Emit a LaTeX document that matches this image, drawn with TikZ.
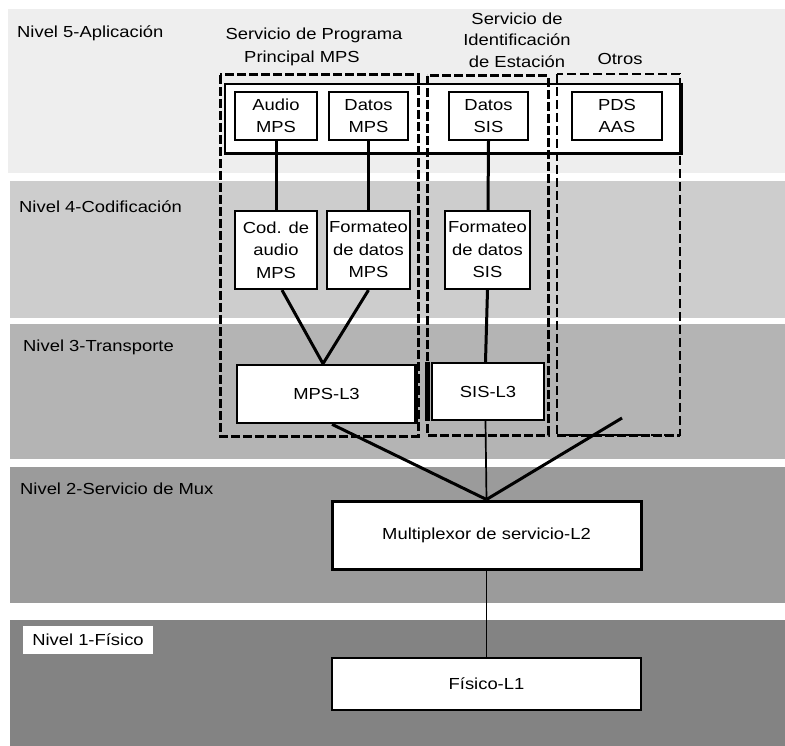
\documentclass[tikz,border=0pt]{standalone}
\usepackage{fontspec}
\setmainfont{Liberation Sans}[FakeStretch=1.15]
\newcommand\labfont{\fontsize{16}{22.5}\selectfont}
\definecolor{bandV}{HTML}{EEEEEE}
\definecolor{bandIV}{HTML}{CDCDCD}
\definecolor{bandIII}{HTML}{B4B4B4}
\definecolor{bandII}{HTML}{9B9B9B}
\definecolor{bandI}{HTML}{838383}
\begin{document}
\begin{tikzpicture}[x=1pt,y=-1pt,
  lbl/.style={anchor=west,inner sep=0pt,font=\labfont},
  hdr/.style={inner sep=0pt,align=center,font=\labfont},
  box/.style={draw,fill=white,line width=2.2pt,inner sep=0pt,align=center,font=\labfont},
  link/.style={line width=3pt},
  thinlink/.style={line width=1.7pt},
  grp/.style={line width=3pt,dash pattern=on 9pt off 3pt},
  grpthin/.style={line width=2pt,dash pattern=on 9pt off 4pt}]
\useasboundingbox (0,0) rectangle (785,746);

% layer bands
\fill[bandV]   (8,9)    rectangle (785,173);
\fill[bandIV]  (10,181) rectangle (785,318);
\fill[bandIII] (10,324) rectangle (785,459);
\fill[bandII]  (10,467) rectangle (785,603);
\fill[bandI]   (10,620) rectangle (785,746);

% layer names
\node[lbl] (n5) at (17,33)  {Nivel 5-Aplicación};
\node[lbl] (n4) at (19,207) {Nivel 4-Codificación};
\node[lbl] (n3) at (23,347) {Nivel 3-Transporte};
\node[lbl] (n2) at (20,489) {Nivel 2-Servicio de Mux};
\node[draw=none,fill=white,inner sep=0pt,minimum width=130,minimum height=28,font=\labfont] (n1) at (88,640) {Nivel 1-Físico};

% service headings
\node[hdr] (hmpsA) at (314,35) {Servicio de Programa};
\node[hdr] (hmpsB) at (302,58) {Principal MPS};
\node[hdr,font=\fontsize{16}{21.5}\selectfont] (hsis) at (517,40) {Servicio de\\Identificación\\de Estación};
\node[hdr] (hotros) at (620,59) {Otros};

% application frame
\node[draw,fill=white,line width=2pt,minimum width=455,minimum height=69,inner sep=0pt] (appframe) at (452.5,118.5) {};
\draw[line width=3pt] (appframe.north east) -- (appframe.south east) -- (appframe.south west);

% service groups
\draw[grp] (220,75) rectangle (418,436);
\draw[grp] (427,76) rectangle (548,435);
\draw[grpthin] (557,74) rectangle (680,435);
\draw[grp] (557,435) -- (680,435);

% level 5 boxes
\node[box,minimum width=82,minimum height=48] (audio) at (276,116) {Audio\\MPS};
\node[box,minimum width=79,minimum height=48] (datmps) at (368.5,116) {Datos\\MPS};
\node[box,minimum width=79,minimum height=48] (datsis) at (488.5,116) {Datos\\SIS};
\node[box,minimum width=90,minimum height=48] (pds) at (617,116) {PDS\\AAS};

% level 4 boxes
\node[box,minimum width=82,minimum height=78] (cod) at (276,250) {Cod. de\\audio\\MPS};
\node[box,minimum width=83,minimum height=78] (fmps) at (368.5,250) {Formateo\\de datos\\MPS};
\node[box,minimum width=85,minimum height=78] (fsis) at (487.5,250) {Formateo\\de datos\\SIS};

% level 3 boxes
\node[box,line width=2.6pt,minimum width=179,minimum height=58] (mpsl3) at (326.5,394) {MPS-L3};
\node[box,minimum width=112,minimum height=57] (sisl3) at (488,391.5) {SIS-L3};
\draw[line width=4pt] ([xshift=-1pt]mpsl3.north east) -- ([xshift=-1pt]mpsl3.south east);
\draw[line width=5pt] ([xshift=-3pt]sisl3.north west) -- ([xshift=-3pt]sisl3.south west);

% level 2 and 1 boxes
\node[box,line width=3pt,minimum width=309,minimum height=68] (mux) at (486.5,535) {Multiplexor de servicio-L2};
\node[box,line width=2pt,minimum width=309,minimum height=52] (fis) at (486.5,684) {Físico-L1};

% connectors
\draw[link] (audio.south) -- (cod.north);
\draw[link] (datmps.south) -- (fmps.north);
\draw[link] (datsis.south) -- ([xshift=0.5pt]fsis.north);
\draw[link] ([xshift=6pt]cod.south) -- ([xshift=-3.5pt]mpsl3.north);
\draw[link] (fmps.south) -- ([xshift=-3.5pt]mpsl3.north);
\draw[link] (fsis.south) -- ([xshift=-2.5pt]sisl3.north);
\draw[thinlink] ([xshift=-2.5pt]sisl3.south) -- (mux.north);
\draw[link] ([xshift=5.5pt]mpsl3.south) -- (mux.north);
\coordinate (otrosend) at (622,418);
\draw[link] (otrosend) -- (mux.north);
\draw[thinlink] (mux.south) -- (fis.north);
\end{tikzpicture}
\end{document}
